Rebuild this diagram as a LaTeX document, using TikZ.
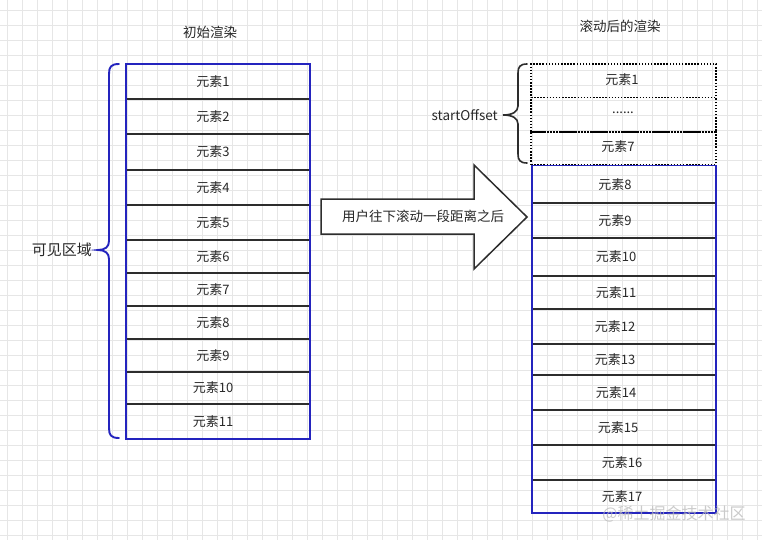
\documentclass[tikz,border=0pt]{standalone}
\usepackage{fontspec}
\setmainfont{Noto Sans CJK SC}
\definecolor{bluec}{RGB}{36,36,190}
\definecolor{sepc}{RGB}{45,45,45}
\definecolor{txtc}{RGB}{40,40,40}
\definecolor{gridc}{RGB}{230,230,230}
\begin{document}
\begin{tikzpicture}[x=1pt,y=-1pt,
  gridline/.style={draw=gridc, line width=0.7pt},
  rowbox/.style={draw=sepc, line width=1.7pt, minimum width=184pt, inner sep=0pt, outer sep=0pt, anchor=north west},
  dotbox/.style={draw=black, line width=1.5pt, dash pattern=on 1.5pt off 1.6pt, minimum width=185pt, inner sep=0pt, outer sep=0pt, anchor=north west},
  lbl/.style={text=txtc, font=\fontsize{13}{15}\selectfont, inner sep=0pt},
  title/.style={text=txtc, font=\fontsize{13.5}{15}\selectfont, inner sep=0pt},
  bluebox/.style={draw=bluec, line width=1.9pt},
  bluebrace/.style={draw=bluec, line width=1.9pt, line cap=round},
  greybrace/.style={draw=sepc, line width=1.6pt, line cap=round},
  arrowshape/.style={draw=sepc, fill=white, line width=1.5pt, line join=miter}]
\useasboundingbox (0,0) rectangle (762,540);
\fill[white] (0,0) rectangle (762,540);
% grid
\foreach \gx in {7.5,22.5,...,762} \draw[gridline] (\gx,0) -- (\gx,540);
\foreach \gy in {10,25,...,540} \draw[gridline] (0,\gy) -- (762,\gy);

% titles
\node[title] (t1) at (210,32) {初始渲染};
\node[title] (t2) at (620,26) {滚动后的渲染};

% left column
\foreach \i/\t/\b in {1/64/99,2/99/134,3/134/170,4/170/205,5/205/240,6/240/273,7/273/306,8/306/339,9/339/372,10/372/404,11/404/439}{
  \pgfmathsetmacro\h{\b-\t}
  \pgfmathsetmacro\c{(\t+\b)/2}
  \node[rowbox, minimum height=\h pt] (L\i) at (126,\t) {};
  \node[lbl] (LT\i) at (213,\c) {元素\i};
}
\draw[bluebox] (L1.north west) rectangle (L11.south east);

% left brace
\draw[bluebrace] (119,64) .. controls (111,64) and (109,67) .. (109,74) -- (109,241)
  .. controls (109,247) and (105,250) .. (98,250)
  .. controls (105,250) and (109,253) .. (109,259) -- (109,428)
  .. controls (109,435) and (111,438) .. (119,438);
\node[text=txtc, font=\fontsize{15}{17}\selectfont, inner sep=0pt, anchor=east] (vis) at (92,250) {可见区域};

% arrow
\draw[arrowshape] (321,199) -- (474,199) -- (474,165) -- (527,217) -- (474,269) -- (474,234) -- (321,234) -- cycle;
\node[text=txtc, font=\fontsize{13.5}{15}\selectfont, inner sep=0pt] (arr) at (423,216) {用户往下滚动一段距离之后};

% right dotted rows
\node[dotbox, minimum height=33.5pt] (D1) at (531,64) {};
\node[dotbox, minimum height=34.5pt] (D2) at (531,97.5) {};
\node[dotbox, minimum height=32.5pt] (D3) at (531,132) {};
\node[lbl] (DT1) at (622,80) {元素1};
\node[lbl] (DT2) at (623,113) {......};
\node[lbl] (DT3) at (618,147) {元素7};

% right brace
\draw[greybrace] (527,64) .. controls (520,64) and (518,67) .. (518,73) -- (518,106)
  .. controls (518,112) and (512,115) .. (503,115)
  .. controls (512,115) and (518,118) .. (518,124) -- (518,154)
  .. controls (518,160) and (520,163) .. (527,163);
\node[text=txtc, font=\fontsize{13.5}{15}\selectfont, inner sep=0pt, anchor=east] (so) at (498,115) {startOffset};

% right column
\foreach \i/\t/\b/\lx in {8/165.5/203/615,9/203/238/615,10/238/276/616,11/276/309/616,12/309/344/615,13/344/375/615,14/375/410/616,15/410/445/618,16/445/480/622,17/480/513/622}{
  \pgfmathsetmacro\h{\b-\t}
  \pgfmathsetmacro\c{(\t+\b)/2}
  \node[rowbox, minimum height=\h pt] (R\i) at (532,\t) {};
  \node[lbl] (RT\i) at (\lx,\c) {元素\i};
}
\draw[bluebox] (R8.north west) rectangle (R17.south east);

% watermark
\node[text=gray!55, opacity=0.75, font=\fontsize{16}{18}\selectfont, inner sep=0pt] (wm) at (674,514) {@稀土掘金技术社区};
\end{tikzpicture}
\end{document}
